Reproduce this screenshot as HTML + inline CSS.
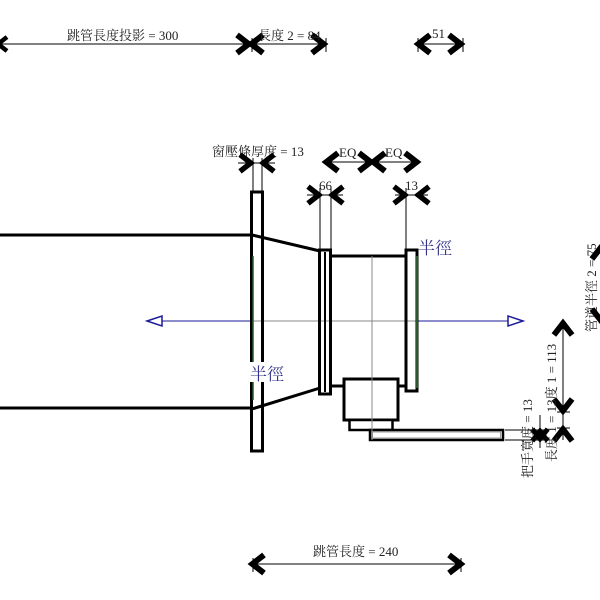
<!DOCTYPE html>
<html><head><meta charset="utf-8"><style>
html,body{margin:0;padding:0;background:#fff;width:600px;height:600px;overflow:hidden}
svg text{font-family:"Liberation Serif","Noto Serif CJK SC","Noto Sans CJK TC",serif;font-size:13px;fill:#222}
</style></head><body>
<svg width="600" height="600" viewBox="0 0 600 600" xmlns="http://www.w3.org/2000/svg">
<defs>
<g id="ar"><polyline points="10,-7 1,0 10,7" fill="none" stroke="#000" stroke-width="4.5" stroke-linejoin="miter"/></g>
</defs>
<line x1="0" y1="235" x2="252" y2="235" stroke="#000" stroke-width="3"/>
<line x1="0" y1="408" x2="252" y2="408" stroke="#000" stroke-width="3"/>
<line x1="252" y1="321" x2="418" y2="321" stroke="#888" stroke-width="1"/>
<line x1="150" y1="321" x2="252" y2="321" stroke="#1a1a9a" stroke-width="1"/>
<line x1="418" y1="321" x2="520" y2="321" stroke="#1a1a9a" stroke-width="1"/>
<polygon points="147,321 162,316 162,326" fill="#fff" stroke="#1a1a9a" stroke-width="1.5"/>
<polygon points="523,321 508,316 508,326" fill="#fff" stroke="#1a1a9a" stroke-width="1.5"/>
<rect x="251.5" y="192" width="11" height="259" fill="none" stroke="#000" stroke-width="3"/>
<line x1="253" y1="256" x2="253" y2="400" stroke="#2a5a2a" stroke-width="1.5"/>
<line x1="252" y1="235" x2="320" y2="251" stroke="#000" stroke-width="3"/>
<line x1="252" y1="409" x2="320" y2="388" stroke="#000" stroke-width="3"/>
<rect x="319.5" y="250" width="11" height="144" fill="none" stroke="#000" stroke-width="3"/>
<line x1="325" y1="252" x2="325" y2="392" stroke="#000" stroke-width="2"/>
<line x1="331" y1="256" x2="406" y2="256" stroke="#000" stroke-width="3"/>
<line x1="331" y1="386" x2="344" y2="386" stroke="#000" stroke-width="3"/>
<line x1="397" y1="386" x2="406" y2="386" stroke="#000" stroke-width="3"/>
<rect x="406" y="250" width="11" height="141" fill="none" stroke="#000" stroke-width="3"/>
<line x1="417" y1="256" x2="417" y2="388" stroke="#2a5a2a" stroke-width="2"/>
<rect x="344" y="379" width="54" height="41" fill="#fff" stroke="#000" stroke-width="3"/>
<rect x="349.5" y="420" width="43" height="10" fill="#fff" stroke="#000" stroke-width="2.5"/>
<rect x="370" y="430" width="133" height="10" fill="#fff" stroke="#000" stroke-width="2.5"/>
<rect x="372.5" y="432" width="128" height="6" fill="none" stroke="#999" stroke-width="1"/>
<line x1="372" y1="256" x2="372" y2="440" stroke="#888" stroke-width="1"/>
<!-- top dims -->
<line x1="0" y1="44" x2="250" y2="44" stroke="#000" stroke-width="1"/>
<use href="#ar" transform="translate(-3,44)"/>
<use href="#ar" transform="translate(250,44) rotate(180) scale(1.3)"/>
<use href="#ar" transform="translate(250,44) scale(1.3)"/>
<line x1="250" y1="44" x2="325" y2="44" stroke="#000" stroke-width="1"/>
<use href="#ar" transform="translate(325,44) rotate(180) scale(1.3)"/>
<line x1="252" y1="38" x2="252" y2="52" stroke="#000" stroke-width="1"/>
<line x1="326" y1="38" x2="326" y2="52" stroke="#000" stroke-width="1"/>
<text x="67" y="40">跳管長度投影 = 300</text>
<text x="258" y="40">長度 2 = 84</text>
<line x1="417" y1="44" x2="462" y2="44" stroke="#000" stroke-width="1"/>
<use href="#ar" transform="translate(417,44) scale(1.3)"/>
<use href="#ar" transform="translate(462,44) rotate(180) scale(1.3)"/>
<line x1="418" y1="38" x2="418" y2="52" stroke="#000" stroke-width="1"/>
<line x1="463" y1="38" x2="463" y2="52" stroke="#000" stroke-width="1"/>
<text x="432" y="38">51</text>
<text x="212" y="156">窗壓條厚度 = 13</text>
<line x1="238" y1="163" x2="275" y2="163" stroke="#000" stroke-width="1"/>
<use href="#ar" transform="translate(252,163) rotate(180) scale(1.2)"/>
<use href="#ar" transform="translate(262,163) scale(1.2)"/>
<line x1="253" y1="158" x2="253" y2="192" stroke="#000" stroke-width="1"/>
<line x1="262" y1="158" x2="262" y2="192" stroke="#000" stroke-width="1"/>
<line x1="325" y1="162" x2="418" y2="162" stroke="#000" stroke-width="1"/>
<use href="#ar" transform="translate(325,162) scale(1.3)"/>
<use href="#ar" transform="translate(372,162) rotate(180) scale(1.3)"/>
<use href="#ar" transform="translate(372,162) scale(1.3)"/>
<use href="#ar" transform="translate(418,162) rotate(180) scale(1.3)"/>
<text x="339" y="157">EQ</text>
<text x="385" y="157">EQ</text>
<line x1="307" y1="195" x2="343" y2="195" stroke="#000" stroke-width="1"/>
<use href="#ar" transform="translate(320,195) rotate(180) scale(1.2)"/>
<use href="#ar" transform="translate(331,195) scale(1.2)"/>
<line x1="320" y1="188" x2="320" y2="250" stroke="#000" stroke-width="1"/>
<line x1="331" y1="188" x2="331" y2="250" stroke="#000" stroke-width="1"/>
<text x="319" y="190">66</text>
<line x1="395" y1="195" x2="428" y2="195" stroke="#000" stroke-width="1"/>
<use href="#ar" transform="translate(406,195) rotate(180) scale(1.2)"/>
<use href="#ar" transform="translate(417,195) scale(1.2)"/>
<line x1="406" y1="188" x2="406" y2="250" stroke="#000" stroke-width="1"/>
<text x="405" y="190">13</text>
<text x="418" y="254" style="font-size:17px;fill:#33338a">半徑</text>
<rect x="250" y="362" width="40" height="20" fill="#fff"/>
<text x="250" y="380" style="font-size:17px;fill:#33338a">半徑</text>
<line x1="251" y1="564" x2="462" y2="564" stroke="#000" stroke-width="1"/>
<use href="#ar" transform="translate(251,564) scale(1.3)"/>
<use href="#ar" transform="translate(462,564) rotate(180) scale(1.3)"/>
<line x1="253" y1="558" x2="253" y2="572" stroke="#000" stroke-width="1"/>
<line x1="461" y1="558" x2="461" y2="572" stroke="#000" stroke-width="1"/>
<text x="313" y="556">跳管長度 = 240</text>
<line x1="563" y1="322" x2="563" y2="440" stroke="#000" stroke-width="1"/>
<use href="#ar" transform="translate(563,322) rotate(90) scale(1.3)"/>
<use href="#ar" transform="translate(563,412) rotate(-90) scale(1.3)"/>
<use href="#ar" transform="translate(563,428) rotate(90) scale(1.3)"/>
<line x1="557" y1="412" x2="570" y2="412" stroke="#000" stroke-width="1"/>
<line x1="557" y1="428" x2="570" y2="428" stroke="#000" stroke-width="1"/>
<text transform="translate(556,462) rotate(-90)">長度 1 = 13度 1 = 113</text>
<line x1="540" y1="415" x2="540" y2="448" stroke="#000" stroke-width="1"/>
<use href="#ar" transform="translate(540,430) rotate(90) scale(1.1)"/>
<use href="#ar" transform="translate(540,440) rotate(-90) scale(1.1)"/>
<line x1="505" y1="430" x2="545" y2="430" stroke="#000" stroke-width="1"/>
<line x1="505" y1="440" x2="545" y2="440" stroke="#000" stroke-width="1"/>
<text transform="translate(532,478) rotate(-90)">把手寬度 = 13</text>
<text transform="translate(596,332) rotate(-90)">管道半徑 2 = 75</text>
<use href="#ar" transform="translate(601,246) rotate(90) scale(1.3)"/>
<use href="#ar" transform="translate(601,322) rotate(-90) scale(1.3)"/>
</svg>
</body></html>
